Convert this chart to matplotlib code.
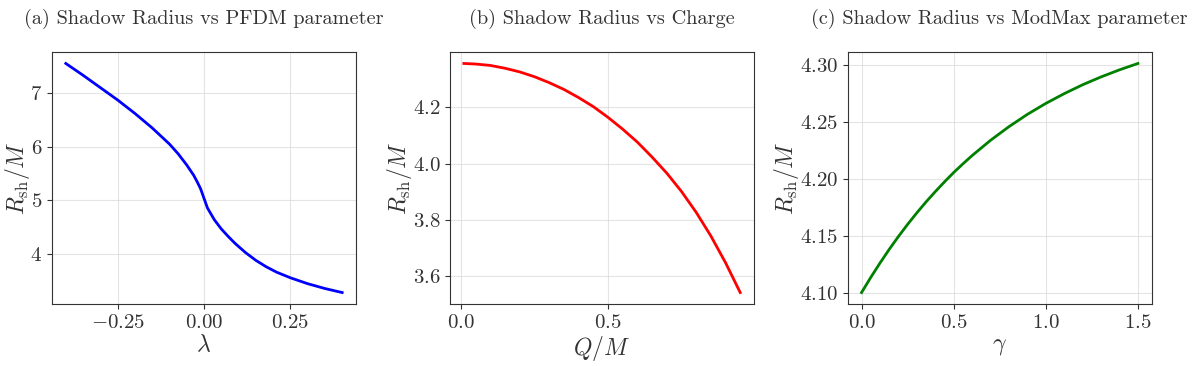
import numpy as np
import matplotlib
matplotlib.use("Agg")
import matplotlib.pyplot as plt
from matplotlib.ticker import FormatStrFormatter

plt.rcParams["font.family"] = "serif"
plt.rcParams["font.serif"] = ["cmr10"]
plt.rcParams["mathtext.fontset"] = "cm"
plt.rcParams["axes.formatter.use_mathtext"] = True

# (a) shadow radius vs PFDM parameter lambda
lam = [-0.40, -0.35, -0.30, -0.25, -0.20, -0.15, -0.10, -0.075, -0.05,
       -0.03, -0.02, -0.01,
       0.01, 0.03, 0.05, 0.07, 0.09, 0.12, 0.15, 0.18, 0.21, 0.25, 0.30,
       0.35, 0.40]
r_lam = [7.55, 7.33, 7.10, 6.87, 6.62, 6.35, 6.05, 5.87, 5.66,
         5.47, 5.35, 5.22,
         4.86, 4.64, 4.47, 4.33, 4.20, 4.03, 3.885, 3.765, 3.665, 3.56,
         3.45, 3.36, 3.285]

# (b) shadow radius vs charge Q/M
q = [0.01, 0.05, 0.10, 0.15, 0.20, 0.25, 0.30, 0.35, 0.40, 0.45, 0.50,
     0.55, 0.60, 0.65, 0.70, 0.75, 0.80, 0.85, 0.90, 0.95]
r_q = [4.356, 4.354, 4.349, 4.339, 4.326, 4.309, 4.288, 4.264, 4.235,
       4.203, 4.165, 4.123, 4.077, 4.024, 3.967, 3.902, 3.828, 3.744,
       3.649, 3.543]

# (c) shadow radius vs ModMax parameter gamma
gam = [0.0, 0.05, 0.1, 0.15, 0.2, 0.25, 0.3, 0.35, 0.4, 0.45, 0.5, 0.55,
       0.6, 0.7, 0.8, 0.9, 1.0, 1.1, 1.2, 1.3, 1.4, 1.5]
r_gam = [4.1000, 4.1133, 4.1259, 4.1379, 4.1492, 4.1599, 4.1700, 4.1796,
         4.1886, 4.1972, 4.2054, 4.2130, 4.2203, 4.2337, 4.2457, 4.2565,
         4.2661, 4.2747, 4.2825, 4.2894, 4.2956, 4.3012]

panels = [
    (lam, r_lam, "blue", r"$\lambda$", "(a) Shadow Radius vs PFDM parameter",
     [-0.25, 0.0, 0.25], ["$-0.25$", "$0.00$", "$0.25$"], "$%d$"),
    (q, r_q, "red", r"$Q/M$", "(b) Shadow Radius vs Charge",
     [0.0, 0.5], ["$0.0$", "$0.5$"], "$%.1f$"),
    (gam, r_gam, "green", r"$\gamma$", "(c) Shadow Radius vs ModMax parameter",
     [0.0, 0.5, 1.0, 1.5], ["$0.0$", "$0.5$", "$1.0$", "$1.5$"], "$%.2f$"),
]

fig = plt.figure(figsize=(11.95, 3.66), dpi=100)
lefts = [0.0435, 0.3766, 0.7094]
for left, (x, y, c, xl, title, xt, xtl, yfmt) in zip(lefts, panels):
    ax = fig.add_axes([left, 0.1694, 0.2544, 0.6885])
    ax.plot(x, y, color=c, lw=2)
    ax.set_xticks(xt)
    ax.set_xticklabels(xtl)
    ax.yaxis.set_major_formatter(FormatStrFormatter(yfmt))
    ax.set_xlabel(xl, fontsize=17, color="#333333", labelpad=2)
    ax.set_ylabel(r"$R_{\rm sh}/M$", fontsize=17, color="#333333", labelpad=-1)
    ax.set_title(title, fontsize=14.6, color="#333333", pad=20)
    ax.grid(True, color="0.85", lw=0.8, alpha=0.7)
    ax.tick_params(labelsize=15, colors="#333333")
    for s in ax.spines.values():
        s.set_color("#333333")

fig.savefig("out.png", dpi=100)
